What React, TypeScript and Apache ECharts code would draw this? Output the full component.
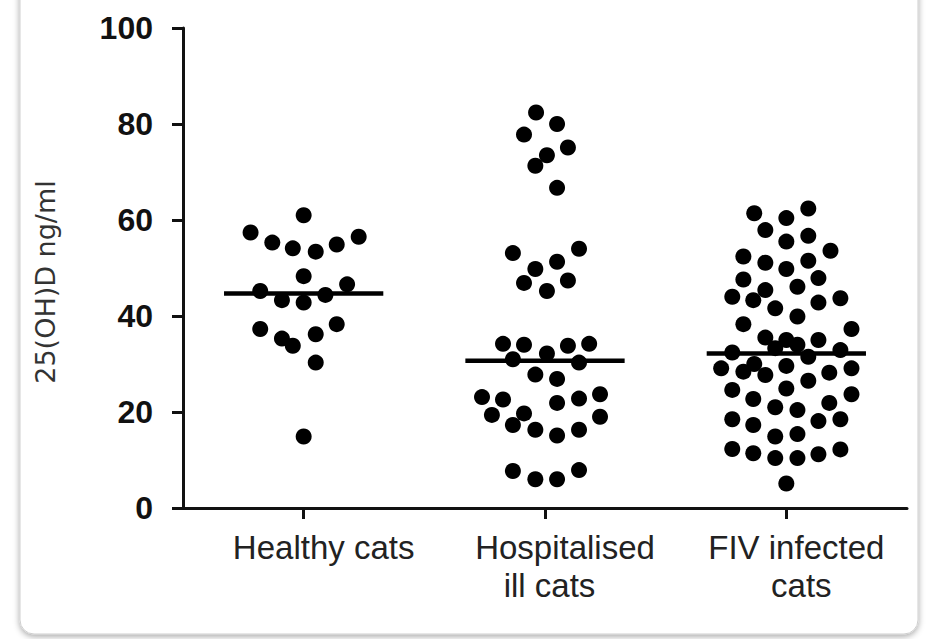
import React, { useEffect, useRef } from "react";
import * as echarts from "echarts";

// ---- data ----
const categories = ["Healthy cats", "Hospitalised\nill cats", "FIV infected\ncats"];
const yTickMin = 0;
const yTickMax = 100;
const yTickStep = 20;
const yAxisName = "25(OH)D ng/ml";

const healthyValues = [61.0, 57.4, 55.3, 54.1, 53.4, 54.9, 56.5, 48.3, 46.6, 45.2, 43.3, 42.8, 44.4, 38.3, 37.3, 35.3, 33.8, 36.2, 30.3, 14.9];
const healthyJitter = [0, -0.22, -0.13, -0.045, 0.05, 0.137, 0.228, 0, 0.18, -0.18, -0.09, 0, 0.09, 0.137, -0.18, -0.09, -0.045, 0.05, 0.05, 0];

const hospitalValues = [82.4, 80.0, 77.8, 75.1, 73.5, 71.3, 66.7, 53.1, 54.0, 51.3, 49.8, 46.9, 47.4, 45.2, 34.2, 34.0, 33.8, 34.2, 32.2, 31.0, 30.3, 27.8, 26.9, 23.1, 22.6, 21.9, 22.8, 23.7, 19.4, 19.7, 17.3, 16.3, 15.1, 16.3, 19.0, 7.7, 6.0, 6.0, 7.9];
const hospitalJitter = [-0.037, 0.05, -0.087, 0.095, 0.008, -0.04, 0.05, -0.133, 0.141, 0.05, -0.04, -0.087, 0.095, 0.008, -0.174, -0.087, 0.095, 0.183, 0.008, -0.133, 0.141, -0.04, 0.05, -0.261, -0.174, 0.05, 0.141, 0.228, -0.22, -0.087, -0.133, -0.04, 0.05, 0.141, 0.228, -0.133, -0.04, 0.05, 0.141];

const fivValues = [61.4, 60.4, 62.4, 57.9, 55.5, 56.7, 53.6, 52.4, 51.1, 49.8, 51.5, 47.6, 47.9, 46.1, 45.4, 43.3, 44.0, 42.8, 43.7, 41.6, 39.9, 38.3, 37.3, 35.5, 35.0, 35.0, 33.3, 34.0, 32.4, 32.9, 31.5, 29.1, 28.4, 30.0, 27.7, 29.6, 28.2, 29.1, 26.5, 24.6, 22.7, 24.9, 23.7, 21.9, 21.0, 20.4, 18.5, 17.3, 18.1, 18.5, 14.9, 15.4, 12.3, 11.4, 10.4, 10.4, 11.2, 12.2, 5.1];
const fivJitter = [-0.133, 0, 0.091, -0.087, 0, 0.091, 0.183, -0.178, -0.087, 0, 0.091, -0.178, 0.133, 0.046, -0.087, -0.137, -0.224, 0.133, 0.224, -0.046, 0.046, -0.178, 0.27, -0.087, 0, 0.133, -0.046, 0.046, -0.224, 0.224, 0.091, -0.27, -0.178, -0.133, -0.087, 0, 0.178, 0.27, 0.091, -0.224, -0.137, 0, 0.27, 0.178, -0.046, 0.046, -0.224, -0.137, 0.133, 0.224, -0.046, 0.046, -0.224, -0.137, -0.046, 0.046, 0.133, 0.224, 0];

const medians = [44.7, 30.7, 32.2];

const groups = [
  { values: healthyValues, jitter: healthyJitter },
  { values: hospitalValues, jitter: hospitalJitter },
  { values: fivValues, jitter: fivJitter },
];

export default function App() {
  const ref = useRef<HTMLDivElement>(null);

  useEffect(() => {
    if (!ref.current) return;
    const chart = echarts.init(ref.current, null, { renderer: "svg" });

    const ink = "#111";
    const labelFont = "'Liberation Sans', Arial, sans-serif";
    const labelBase = { fontFamily: labelFont, fontSize: 33, color: "#222", lineHeight: 38 };
    // per-line nudges of the category labels
    const lineShift: Record<string, string> = {
      "Healthy cats": "p40",
      "Hospitalised": "p40",
      "ill cats": "p9",
      "FIV infected": "p20",
      "cats": "p30",
    };

    const dotSeries = groups.map((g, ci) => ({
      type: "scatter",
      xAxisIndex: 1,
      yAxisIndex: 0,
      symbol: "circle",
      symbolSize: 16,
      itemStyle: { color: "#000", opacity: 1 },
      data: g.values.map((v, i) => [ci + g.jitter[i], v]),
      z: 3,
    }));

    const medianSeries = medians.map((m, ci) => ({
      type: "line",
      xAxisIndex: 1,
      yAxisIndex: 0,
      symbol: "none",
      lineStyle: { color: "#000", width: 4.5 },
      data: [
        [ci - 0.33, m],
        [ci + 0.33, m],
      ],
      z: 4,
    }));

    chart.setOption({
      animation: false,
      backgroundColor: "#fff",
      graphic: [
        {
          type: "rect",
          z: -10,
          silent: true,
          shape: { x: 20, y: -20, width: 898, height: 654, r: 14 },
          style: {
            fill: "#fff",
            stroke: "#cfcfcf",
            lineWidth: 1,
            shadowBlur: 6,
            shadowColor: "rgba(0,0,0,0.35)",
            shadowOffsetY: 2,
          },
        },
      ],
      grid: { left: 183, right: 23, top: 28, bottom: 131, containLabel: false },
      xAxis: [
        {
          type: "category",
          data: categories,
          boundaryGap: true,
          axisLine: { show: true, onZero: false, lineStyle: { color: ink, width: 3 } },
          axisTick: { show: true, alignWithLabel: true, length: 11, lineStyle: { color: ink, width: 3 } },
          splitLine: { show: false },
          axisLabel: {
            ...labelBase,
            margin: 20,
            interval: 0,
            formatter: (val: string) =>
              val
                .split("\n")
                .map((line) => `{${lineShift[line] || "p0"}|${line}}`)
                .join("\n"),
            rich: {
              p0: { ...labelBase },
              p9: { ...labelBase, padding: [0, 0, 0, 9] },
              p20: { ...labelBase, padding: [0, 0, 0, 20] },
              p30: { ...labelBase, padding: [0, 0, 0, 30] },
              p40: { ...labelBase, padding: [0, 0, 0, 40] },
            },
          },
        },
        {
          type: "value",
          min: -0.5,
          max: 2.5,
          show: false,
          axisLine: { onZero: false },
          splitLine: { show: false },
        },
      ],
      yAxis: {
        type: "value",
        min: yTickMin,
        max: yTickMax,
        interval: yTickStep,
        axisLine: { show: true, onZero: false, lineStyle: { color: ink, width: 3 } },
        axisTick: { show: true, length: 11, lineStyle: { color: ink, width: 3 } },
        splitLine: { show: false },
        axisLabel: {
          fontFamily: labelFont,
          fontWeight: "bold",
          fontSize: 32,
          color: ink,
          margin: 30,
        },
        name: yAxisName,
        nameLocation: "middle",
        nameGap: 124,
        nameTextStyle: {
          fontFamily: "'DejaVu Sans', sans-serif",
          fontSize: 27,
          color: "#333",
          padding: [0, 28, 0, 0],
        },
      },
      series: [...dotSeries, ...medianSeries],
    });

    return () => chart.dispose();
  }, []);

  return (
    <div
      ref={ref}
      style={{ position: "absolute", left: 0, top: 0, width: 930, height: 639 }}
    />
  );
}
